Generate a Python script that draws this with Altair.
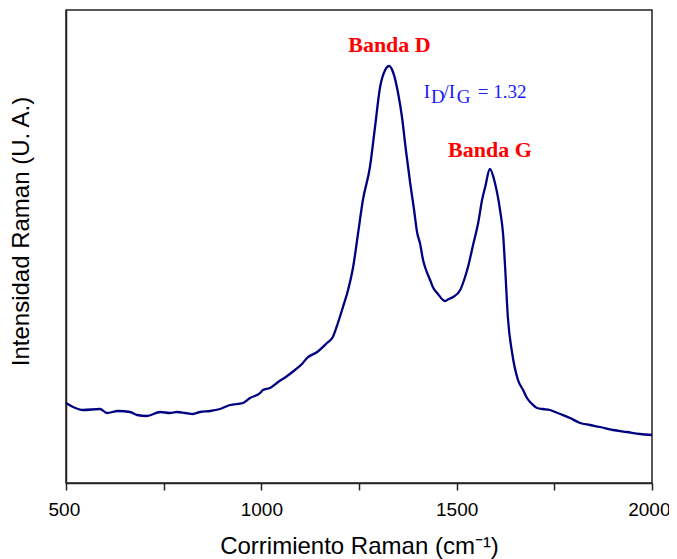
import altair as alt
import pandas as pd

# Raman spectrum (wavenumber in cm^-1, intensity in arbitrary units)
shift = [500, 518, 544, 587, 605, 633, 664, 682, 707, 741, 766, 784, 805, 825, 843,
         869, 894, 920, 953, 971, 997, 1004, 1022, 1043, 1066, 1086, 1104, 1117, 1143,
         1168, 1183, 1196, 1209, 1222, 1235, 1247, 1260, 1278, 1291, 1304, 1317, 1327,
         1337, 1350, 1360, 1370, 1381, 1391, 1399, 1406, 1414, 1419, 1432, 1439, 1452,
         1470, 1480, 1491, 1509, 1519, 1529, 1542, 1555, 1565, 1573, 1585, 1598, 1611,
         1619, 1624, 1631, 1642, 1657, 1670, 1680, 1693, 1706, 1721, 1739, 1752, 1765,
         1790, 1816, 1841, 1867, 1900, 1936, 1969, 2000]
intensity = [80, 76, 73, 74, 70, 72, 71, 68, 67, 71, 70, 71, 70, 69, 71,
             72, 74, 78, 80, 85, 90, 93, 95, 101, 107, 113, 119, 125, 131,
             140, 146, 160, 176, 193, 216, 248, 283, 316, 356, 396, 413, 417,
             411, 390, 366, 333, 300, 273, 250, 240, 223, 216, 203, 196, 189,
             182, 184, 186, 193, 203, 216, 238, 260, 283, 296, 314, 300, 273,
             248, 216, 166, 130, 103, 93, 85, 79, 75, 74, 73, 71, 69,
             65, 60, 58, 56, 53, 51, 49, 48]

x_ticks = [500, 750, 1000, 1250, 1500, 1750, 2000]

band_text = ["Banda D", "Banda G"]
band_x = [1328, 1585]
band_y = [431, 326]

ratio_text = ["I", "D", "/I", "G", "= 1.32"]
ratio_x = [1416, 1434, 1466, 1500, 1554]
ratio_y = [385, 380, 385, 380, 385]

df = pd.DataFrame({"shift": shift, "intensity": intensity})
bands = pd.DataFrame({"x": band_x, "y": band_y, "t": band_text})
ratio = pd.DataFrame({"x": ratio_x, "y": ratio_y, "t": ratio_text})

xscale = alt.Scale(domain=[500, 2000], nice=False, zero=False)
yscale = alt.Scale(domain=[0, 473], nice=False, zero=False)

line = alt.Chart(df).mark_line(color="#000080", strokeWidth=2.3,
                               interpolate="monotone").encode(
    x=alt.X("shift:Q", scale=xscale,
            axis=alt.Axis(title="Corrimiento Raman (cm⁻¹)", values=x_ticks,
                          labelExpr="datum.value % 500 == 0 ? datum.label : ''",
                          format="d", grid=False, tickSize=7, labelPadding=10,
                          labelFlush=True, labelFlushOffset=18, labelOverlap=False,
                          labelFontSize=19, labelFont="Liberation Sans",
                          labelColor="#000", tickColor="#222", domainColor="#222",
                          domainWidth=1.5, tickWidth=1.5,
                          titleFont="Liberation Sans", titleFontSize=24,
                          titleFontWeight="normal", titleColor="#000",
                          titleBaseline="alphabetic", titleY=70)),
    y=alt.Y("intensity:Q", scale=yscale,
            axis=alt.Axis(title="Intensidad Raman (U. A.)", ticks=False, labels=False,
                          grid=False, domainColor="#222", domainWidth=1.5,
                          titleFont="Liberation Sans", titleFontSize=24,
                          titleFontWeight="normal", titleColor="#000",
                          titleAngle=270, titleBaseline="alphabetic",
                          titleX=-38, titleY=221)),
)

band_labels = alt.Chart(bands).mark_text(
    color="#FF0000", font="Liberation Serif", fontWeight="bold", fontSize=22,
    align="center", baseline="alphabetic"
).encode(x=alt.X("x:Q", scale=xscale), y=alt.Y("y:Q", scale=yscale), text="t:N")

ratio_labels = alt.Chart(ratio).mark_text(
    color="#1a1aff", font="Liberation Serif", fontSize=19,
    align="left", baseline="alphabetic"
).encode(x=alt.X("x:Q", scale=xscale), y=alt.Y("y:Q", scale=yscale), text="t:N")

chart = alt.layer(line, band_labels, ratio_labels).properties(
    width=586, height=473,
    autosize=alt.AutoSizeParams(type="none"),
    padding={"left": 58, "top": 2, "right": 17, "bottom": 76},
).configure_view(stroke="#222", strokeWidth=1.5)

chart.save("out.html", embed_options={"renderer": "svg", "actions": False})
